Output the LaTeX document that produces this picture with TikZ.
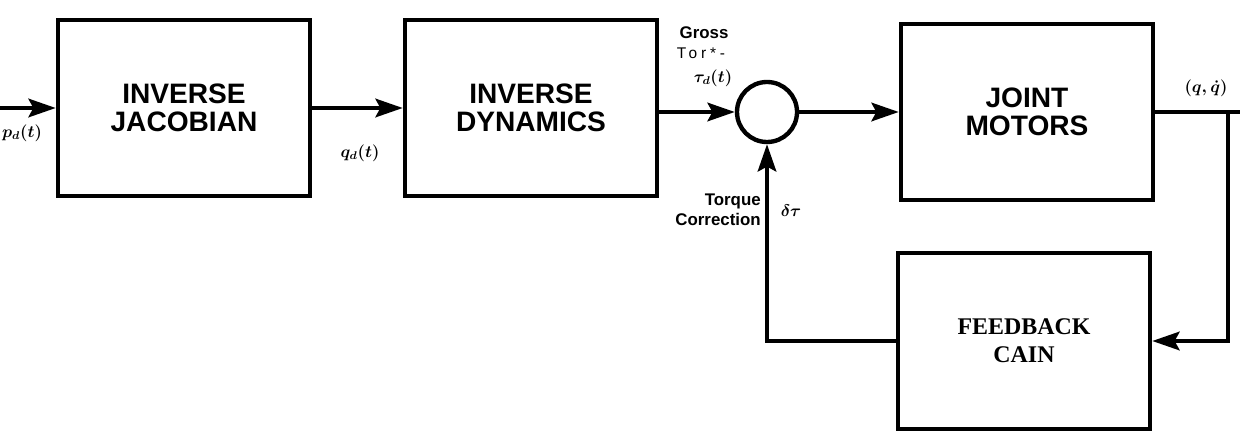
\documentclass[tikz,border=0pt]{standalone}
\usepackage{amsmath}
\usepackage{fontspec}
\setmainfont{Liberation Serif}
\setsansfont{Liberation Sans}
\newfontfamily\spacedsans[LetterSpace=25]{Liberation Sans}
\usetikzlibrary{arrows.meta, positioning, calc}

\tikzset{
    blockbox/.style={draw, line width=3.1pt, minimum width=6.3cm, minimum height=4.4cm, inner sep=0pt, align=center},
    blocktext/.style={font=\sffamily\bfseries\fontsize{20}{20}\selectfont},
    sumnode/.style={draw, circle, line width=3.1pt, minimum size=1.5cm, inner sep=0pt},
    sig/.style={line width=3.1pt},
    sigarrow/.style={line width=3.1pt, -{Stealth[length=0.68cm, width=0.46cm, inset=0.12cm]}},
    smalllabel/.style={font=\sffamily\bfseries\fontsize{12}{14}\selectfont, inner sep=0pt}
}

\begin{document}
\begin{tikzpicture}[x=0.025cm, y=-0.025cm]
\useasboundingbox (0,0) rectangle (1240,445);

% Forward path
\node[blockbox, blocktext] (jac) at (184,108) {INVERSE\\JACOBIAN};
\node[blockbox, blocktext] (dyn) at (531,108) {INVERSE\\DYNAMICS};
\node[sumnode] (sum) at (767,112) {};
\node[blockbox, blocktext] (mot) at (1027,112) {JOINT\\MOTORS};

% Feedback path
\node[blockbox, font=\rmfamily\bfseries\fontsize{17}{20}\selectfont] (fb) at (1024,341) {FEEDBACK\\CAIN};

\coordinate (in) at (0,108);
\coordinate (out) at (1240,112);
\coordinate (tap) at (1228,112);

% Connectors
\draw[sigarrow] (in) -- (jac);
\draw[sigarrow] (jac) -- (dyn);
\draw[sigarrow] (dyn.east |- sum) -- (sum);
\draw[sigarrow] (sum) -- (mot);
\draw[sig] (mot) -- (out);
\draw[sigarrow] (tap) |- (fb.east);
\draw[sigarrow] (fb.west) -| (sum.south);

% Signal labels
\node[smalllabel] (pd) at (22,133) {$\boldsymbol{p_d(t)}$};
\node[smalllabel] (qd) at (360,153) {$\boldsymbol{q_d(t)}$};
\node[smalllabel] (gross) at (704,33) {Gross};
\node[inner sep=0pt, font=\spacedsans\fontsize{11}{13}\selectfont] (tor) at (701,53) {Tor*-};
\node[smalllabel] (taud) at (713,78) {$\boldsymbol{\tau_d(t)}$};
\node[smalllabel, anchor=east, align=right] (corr) at (761,210) {Torque\\Correction};
\node[smalllabel] (dtau) at (791,211) {$\boldsymbol{\delta\tau}$};
\node[smalllabel] (qqdot) at (1206,88) {$\boldsymbol{(q,\dot{q})}$};

\end{tikzpicture}
\end{document}
